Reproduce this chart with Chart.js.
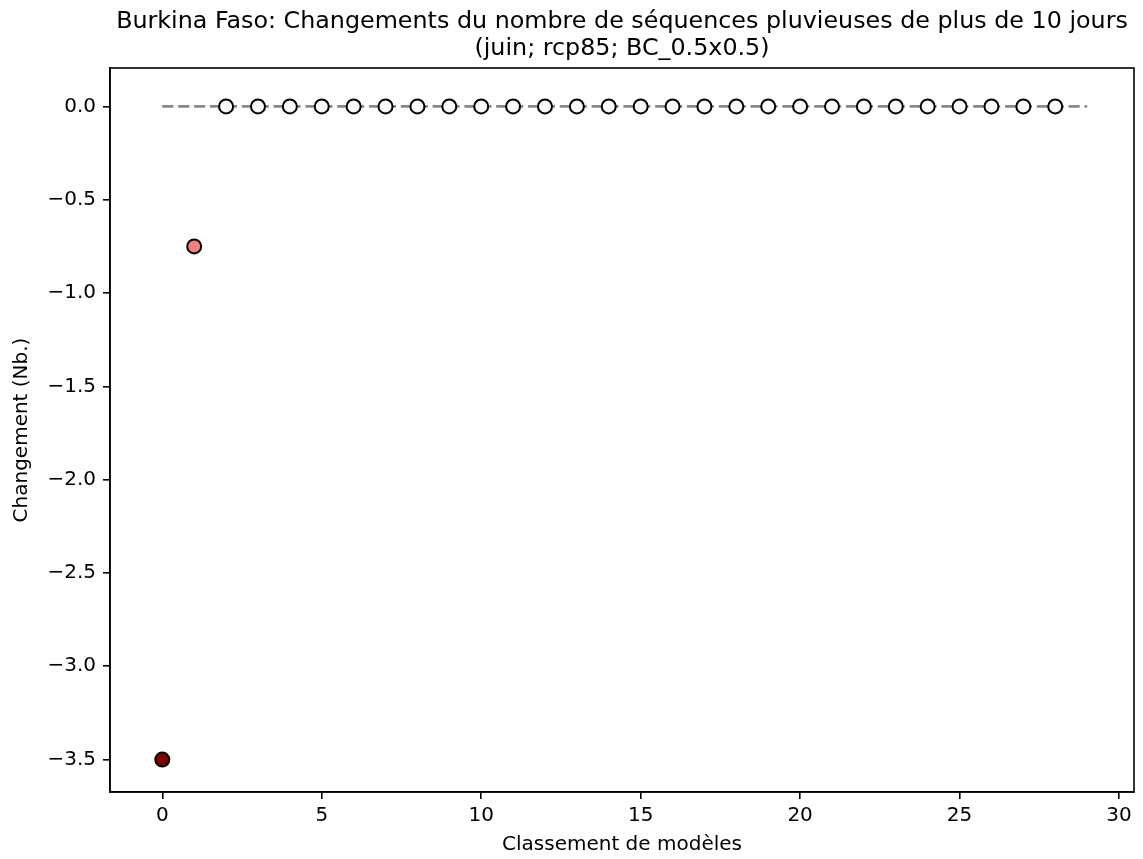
<!DOCTYPE html>
<html>
<head>
<meta charset="utf-8">
<script src="https://cdn.jsdelivr.net/npm/chart.js@4"></script>
<style>
  html, body { margin: 0; padding: 0; background: #fff; }
  canvas { display: block; }
</style>
</head>
<body>
<canvas id="c" width="1143" height="859"></canvas>
<script>
// ---- data ----
const titleLines = ["Burkina Faso: Changements du nombre de séquences pluvieuses de plus de 10 jours", "(juin; rcp85; BC_0.5x0.5)"];
const xLabel = "Classement de modèles";
const yLabel = "Changement (Nb.)";
const ranks = [0, 1, 2, 3, 4, 5, 6, 7, 8, 9, 10, 11, 12, 13, 14, 15, 16, 17, 18, 19, 20, 21, 22, 23, 24, 25, 26, 27, 28];
const changes = [-3.5, -0.75, 0, 0, 0, 0, 0, 0, 0, 0, 0, 0, 0, 0, 0, 0, 0, 0, 0, 0, 0, 0, 0, 0, 0, 0, 0, 0, 0];
const pointColors = ["#800000", "#f08080"].concat(new Array(27).fill("#f8f8ff"));
const refLineX = [0, 29];
const refLineY = [0, 0];
const xTicks = [0, 5, 10, 15, 20, 25, 30];
const yTicks = [0, -0.5, -1.0, -1.5, -2.0, -2.5, -3.0, -3.5];

const FONT = "'DejaVu Sans', sans-serif";

const framePlugin = {
  id: 'frame',
  afterDatasetsDraw(chart) {
    const {ctx, chartArea: a} = chart;
    ctx.save();
    ctx.strokeStyle = '#000';
    ctx.lineWidth = 1.6;
    ctx.strokeRect(a.left, a.top, a.right - a.left, a.bottom - a.top);
    ctx.restore();
  }
};

const titlePlugin = {
  id: 'mplTitle',
  afterDraw(chart) {
    const {ctx, chartArea: a} = chart;
    ctx.save();
    ctx.fillStyle = '#000';
    ctx.font = "23.8px " + FONT;
    ctx.textAlign = 'center';
    ctx.textBaseline = 'alphabetic';
    const cx = (a.left + a.right) / 2;
    ctx.fillText(titleLines[0], cx, 28);
    ctx.fillText(titleLines[1], cx, 55);
    ctx.restore();
  }
};

const fmt = v => {
  const s = Math.abs(v).toFixed(1);
  return (v < 0 ? "\u2212" : "") + s;
};

new Chart(document.getElementById('c'), {
  data: {
    datasets: [
      {
        type: 'line',
        data: refLineX.map((x, i) => ({x: x, y: refLineY[i]})),
        borderColor: '#888888',
        borderWidth: 2.8,
        borderDash: [11.1, 4.8],
        borderCapStyle: 'butt',
        pointRadius: 0,
        fill: false,
        order: 2
      },
      {
        type: 'scatter',
        data: ranks.map((x, i) => ({x: x, y: changes[i]})),
        backgroundColor: pointColors,
        borderColor: '#000',
        borderWidth: 2,
        pointRadius: 7,
        pointHoverRadius: 7,
        order: 1
      }
    ]
  },
  options: {
    responsive: false,
    animation: false,
    events: [],
    layout: { padding: { top: 68, right: 2, left: 0, bottom: 0 } },
    plugins: {
      legend: { display: false },
      title: { display: false },
      tooltip: { enabled: false }
    },
    scales: {
      x: {
        type: 'linear',
        position: 'bottom',
        min: -1.64,
        max: 30.47,
        afterFit(scale) { scale.height = 67; scale.paddingLeft = 0; scale.paddingRight = 0; },
        afterBuildTicks(scale) { scale.ticks = xTicks.map(v => ({value: v})); },
        ticks: {
          color: '#000',
          font: { family: FONT, size: 20 },
          padding: 5,
          maxRotation: 0,
          autoSkip: false,
          callback: v => String(v)
        },
        grid: { drawOnChartArea: false, drawTicks: true, tickLength: 7, color: '#000', lineWidth: 1.6 },
        border: { display: true, color: '#000', width: 1.6 },
        title: {
          display: true,
          text: xLabel,
          color: '#000',
          font: { family: FONT, size: 20 },
          padding: { top: 0, bottom: 2 }
        }
      },
      y: {
        type: 'linear',
        position: 'left',
        min: -3.674,
        max: 0.206,
        afterFit(scale) { scale.width = 110; scale.paddingTop = 0; scale.paddingBottom = 0; },
        afterBuildTicks(scale) { scale.ticks = yTicks.map(v => ({value: v})); },
        ticks: {
          color: '#000',
          font: { family: FONT, size: 20 },
          padding: 7,
          autoSkip: false,
          callback: v => fmt(v)
        },
        grid: { drawOnChartArea: false, drawTicks: true, tickLength: 7, color: '#000', lineWidth: 1.6 },
        border: { display: true, color: '#000', width: 1.6 },
        title: {
          display: true,
          text: yLabel,
          color: '#000',
          font: { family: FONT, size: 20 },
          padding: { top: 10, bottom: 0 }
        }
      }
    }
  },
  plugins: [framePlugin, titlePlugin]
});
</script>
</body>
</html>
